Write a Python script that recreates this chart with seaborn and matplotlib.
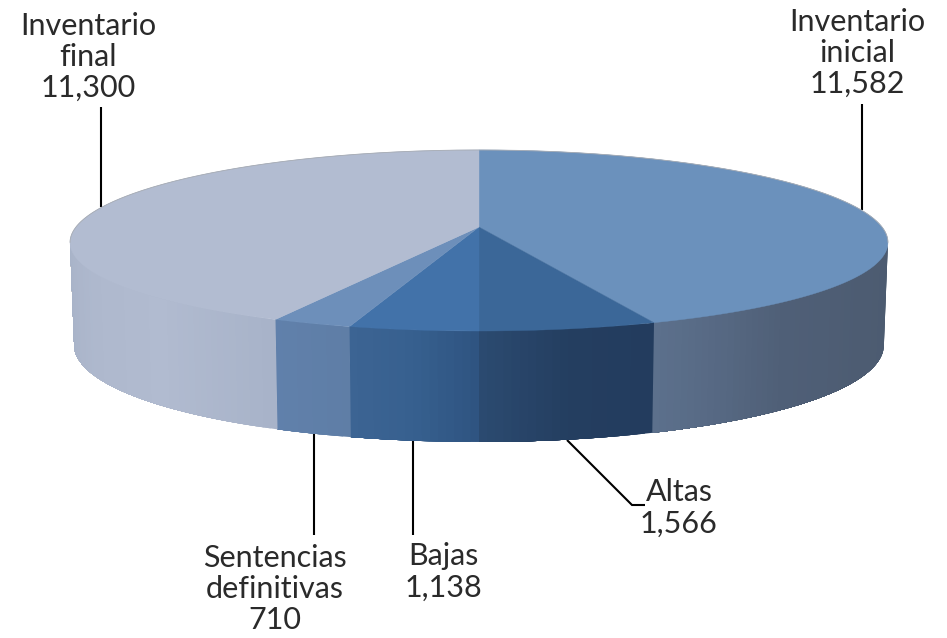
import numpy as np
import matplotlib
matplotlib.use('Agg')
import matplotlib.pyplot as plt
import seaborn as sns

categories = ['Inventario\ninicial', 'Altas', 'Bajas', 'Sentencias\ndefinitivas', 'Inventario\nfinal']
values = [11582, 1566, 1138, 710, 11300]
value_labels = ['11,582', '1,566', '1,138', '710', '11,300']

# Slice colours: top face, then the shading along the side wall
top_colors = ['#6b91bc', '#3b6798', '#4272a9', '#6d8fba', '#b2bcd1']
wall_colors = [
    ['#4c5b70', '#4d5c72', '#4f5f77', '#5c708c'],
    ['#233c5e', '#243e60', '#2b4a70'],
    ['#2f5481', '#37608f', '#3c6493'],
    ['#5f7ea6', '#6080ab'],
    ['#a8b3c9', '#b1bbd0', '#aeb8cd', '#a8b3c8'],
]

# Where the labels sit and how the leader lines run, in image pixels
label_pos = [(857, 53), (679, 508), (443, 572), (275, 589), (88, 57)]
leaders = [
    [(862, 104), (862, 210)],
    [(567, 440), (632, 505), (645, 505)],
    [(413, 441), (413, 535)],
    [(314, 432), (314, 535)],
    [(101, 107), (101, 207)],
]

# Pie geometry, a disc seen in perspective
cx = 479
persp_x = 0.17
persp_y = 0.149
top_a, top_b, top_cy = 403, 88.5, 227
bot_a, bot_b, bot_cy = 399, 97, 328

sns.set_theme(style='white')
plt.rcParams['font.family'] = ['Lato', 'DejaVu Sans']


def project(theta, a, b, cy):
    u, v = np.sin(theta), np.cos(theta)
    return cx + a * u / (1 + persp_x * v), cy - b * v / (1 + persp_y * v)


fig, ax = plt.subplots(figsize=(9.47, 6.38), dpi=100)
fig.subplots_adjust(left=0, right=1, bottom=0, top=1)
ax.set_xlim(0, 947)
ax.set_ylim(638, 0)
ax.axis('off')

edges = np.concatenate([[0], np.cumsum(values)]) / sum(values) * 2 * np.pi
wall_start = np.arccos(-persp_x)
wall_end = 2 * np.pi - wall_start

# Side walls first. Each shade is painted from its own angle to the end of the
# slice, so the next one lies over it and no seams show between the strips
for i in range(len(values)):
    t0 = max(edges[i], wall_start)
    t1 = min(edges[i + 1], wall_end)
    n = max(int((t1 - t0) * 60), 3)
    shades = sns.blend_palette(wall_colors[i], n)
    steps = np.linspace(t0, t1, n + 1)
    for j in range(n):
        th = np.linspace(steps[j], t1, 60)
        x1, y1 = project(th, top_a, top_b, top_cy)
        x2, y2 = project(th[::-1], bot_a, bot_b, bot_cy)
        ax.fill(np.r_[x1, x2], np.r_[y1, y2], color=shades[j], lw=0, zorder=2)

# Top faces
for i in range(len(values)):
    th = np.linspace(edges[i], edges[i + 1], 200)
    x, y = project(th, top_a, top_b, top_cy)
    ax.fill(np.r_[cx, x], np.r_[top_cy, y], color=top_colors[i], lw=0.3, zorder=3)

# Thin grey rim round the back of the pie
th = np.linspace(wall_end, wall_start + 2 * np.pi, 300)
x, y = project(th, top_a, top_b, top_cy)
ax.plot(x, y, color='#a6abb3', lw=0.6, zorder=4)

for pts in leaders:
    ax.plot([p[0] for p in pts], [p[1] for p in pts], color='black', lw=1.5, zorder=1,
            solid_capstyle='butt', solid_joinstyle='miter')

for name, val, (lx, ly) in zip(categories, value_labels, label_pos):
    ax.text(lx, ly, name + '\n' + val, ha='center', va='center', fontsize=22,
            color='#2a2a2a', linespacing=1.14, zorder=5)

fig.savefig('out.png', dpi=100)
